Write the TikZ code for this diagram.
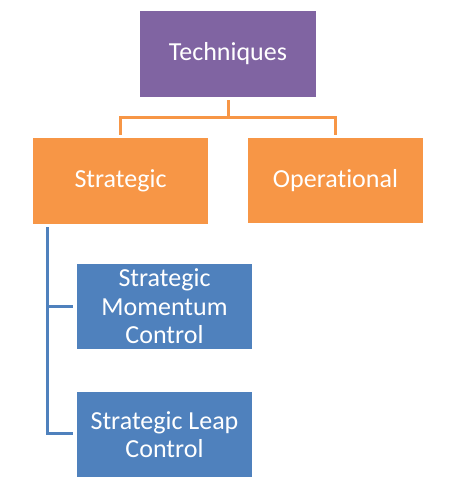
\documentclass[tikz,border=0pt]{standalone}
\usepackage{fontspec}
\setmainfont{Carlito}[Ligatures={NoCommon}]
\usetikzlibrary{calc}
\definecolor{cpurple}{HTML}{8064A2}
\definecolor{corange}{HTML}{F79646}
\definecolor{cblue}{HTML}{4F81BD}
\tikzset{
  box/.style={rectangle, inner sep=0pt, minimum width=175pt, minimum height=86pt, text=white, align=center, font=\fontsize{26}{28.5}\selectfont},
  purplebox/.style={box, fill=cpurple, minimum width=176pt},
  orangebox/.style={box, fill=corange},
  bluebox/.style={box, fill=cblue, minimum height=85pt},
  oline/.style={draw=corange, line width=3pt},
  bline/.style={draw=cblue, line width=3pt}
}
\begin{document}
\begin{tikzpicture}[x=1pt,y=-1pt]
\useasboundingbox (0,0) rectangle (458,488);
\node[purplebox] (tech) at (228,54) {Techniques};
\node[orangebox] (strat) at (120.5,181) {Strategic};
\node[orangebox, minimum height=85pt] (oper) at (335.5,180.5) {Operational};
\node[bluebox] (smc) at (164.5,306.5) {Strategic\\Momentum\\Control};
\node[bluebox] (slc) at (164.5,434.5) {Strategic Leap\\Control};
\coordinate (otop) at ($(tech.south)+(0,3)$);
\coordinate (obar) at ($(tech.south)+(0,20)$);
\draw[oline] (otop) -- (obar) -| ($(strat.north)+(0,-3)$);
\draw[oline] (obar) -| ($(oper.north)+(0,-3)$);
\coordinate (btop) at ($(strat.south west)+(15,3)$);
\draw[bline] (btop) |- ($(smc.west)+(-4,0)$);
\draw[bline] (btop) |- ($(slc.west)+(-4,-1.5)$);
\end{tikzpicture}
\end{document}
